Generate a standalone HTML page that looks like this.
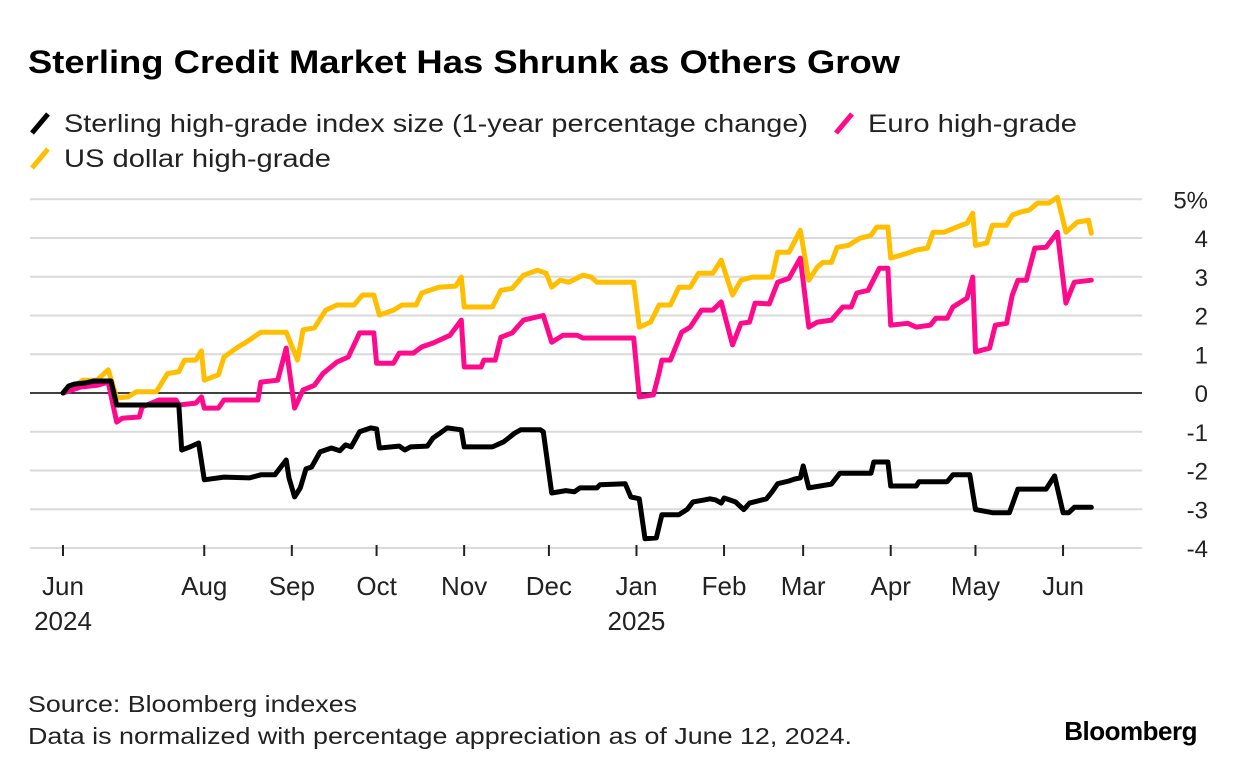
<!DOCTYPE html>
<html><head><meta charset="utf-8"><style>
body{margin:0;background:#fff;width:1236px;height:774px;overflow:hidden;font-family:"Liberation Sans",sans-serif;}
svg text{font-family:"Liberation Sans",sans-serif;}
</style></head><body>
<svg id="chart" width="1236" height="774" xmlns="http://www.w3.org/2000/svg">
<text x="28" y="73" font-size="32" font-weight="bold" fill="#000" textLength="872" lengthAdjust="spacingAndGlyphs">Sterling Credit Market Has Shrunk as Others Grow</text>
<g font-size="25" fill="#222">
<g><line x1="32" y1="133" x2="48" y2="114" stroke="#000" stroke-width="5"/><text x="64" y="132" textLength="744" lengthAdjust="spacingAndGlyphs">Sterling high-grade index size (1-year percentage change)</text></g>
<g><line x1="836" y1="133" x2="852" y2="114" stroke="#ff0a8c" stroke-width="5"/><text x="868" y="132" textLength="209" lengthAdjust="spacingAndGlyphs">Euro high-grade</text></g>
<g><line x1="32" y1="168" x2="48" y2="149" stroke="#ffbf00" stroke-width="5"/><text x="64" y="167" textLength="267" lengthAdjust="spacingAndGlyphs">US dollar high-grade</text></g>
</g>
<g id="grid"></g>
<g id="yaxis"></g>
<g id="xaxis"></g>
<g id="series"></g>
<text x="28" y="712" font-size="23" fill="#222" textLength="329" lengthAdjust="spacingAndGlyphs">Source: Bloomberg indexes</text>
<text x="28" y="744" font-size="23" fill="#222" textLength="824" lengthAdjust="spacingAndGlyphs">Data is normalized with percentage appreciation as of June 12, 2024.</text>
<text x="1197" y="740" font-size="26" font-weight="bold" text-anchor="end" fill="#000" letter-spacing="-0.5">Bloomberg</text>
</svg>
<script>
// days since 2024-06-12
const sterlingDays=[0,2,4,8,11,17,19,41,42,45,48,50,57,66,70,75,79,80,82,84,86,88,91,95,98,100,102,105,109,111,112,119,121,123,129,131,133,136,141,142,152,156,160,162,169,170,173,178,181,183,189,190,199,201,204,206,210,212,218,221,223,227,229,231,233,234,238,241,243,249,251,253,257,259,261,262,264,272,275,286,287,292,293,302,303,313,315,321,323,329,335,338,348,351,354,356,358,364];
const sterlingValues=[0,0.18,0.23,0.26,0.31,0.31,-0.31,-0.31,-1.47,-1.39,-1.29,-2.24,-2.17,-2.19,-2.11,-2.11,-1.73,-2.19,-2.68,-2.45,-1.96,-1.91,-1.52,-1.42,-1.49,-1.34,-1.39,-1.0,-0.9,-0.93,-1.42,-1.37,-1.47,-1.39,-1.37,-1.16,-1.06,-0.9,-0.95,-1.39,-1.39,-1.26,-1.03,-0.95,-0.95,-1.0,-2.58,-2.52,-2.55,-2.45,-2.45,-2.37,-2.34,-2.68,-2.73,-3.76,-3.74,-3.14,-3.14,-3.0,-2.81,-2.76,-2.73,-2.76,-2.84,-2.71,-2.81,-3.01,-2.84,-2.73,-2.55,-2.34,-2.27,-2.22,-2.19,-1.88,-2.45,-2.35,-2.07,-2.07,-1.78,-1.78,-2.4,-2.4,-2.29,-2.29,-2.11,-2.11,-3.01,-3.09,-3.09,-2.48,-2.48,-2.14,-3.09,-3.09,-2.95,-2.95];
const euroDays=[0,6,12,16,19,21,27,28,34,40,41,47,49,50,55,57,69,70,76,79,82,85,89,92,97,101,105,110,111,117,119,124,127,131,137,141,142,148,149,153,155,159,163,170,173,177,182,184,202,204,209,211,212,215,219,222,226,230,233,237,240,243,245,250,253,257,261,264,267,272,276,279,281,285,289,292,293,299,302,307,309,313,315,320,322,323,328,330,334,336,338,341,344,348,352,355,358,364];
const euroValues=[0,0.15,0.2,0.28,-0.75,-0.65,-0.62,-0.36,-0.18,-0.18,-0.31,-0.26,-0.1,-0.39,-0.39,-0.18,-0.18,0.28,0.33,1.16,-0.39,0.08,0.2,0.5,0.8,0.93,1.55,1.55,0.77,0.77,1.03,1.03,1.19,1.29,1.49,1.88,0.67,0.67,0.85,0.85,1.44,1.55,1.88,2.0,1.31,1.49,1.49,1.42,1.42,-0.1,-0.05,0.52,0.85,0.85,1.57,1.7,2.14,2.14,2.35,1.24,1.8,1.83,2.32,2.3,2.86,2.96,3.48,1.7,1.83,1.88,2.22,2.22,2.58,2.65,3.22,3.22,1.75,1.8,1.7,1.75,1.93,1.93,2.22,2.45,2.99,1.06,1.16,1.75,1.8,2.52,2.91,2.91,3.74,3.76,4.15,2.32,2.86,2.91];
const usdDays=[0,7,12,16,19,23,26,33,37,41,43,47,49,50,55,57,62,65,70,79,83,85,89,93,97,103,106,110,112,117,120,125,127,133,139,141,142,152,155,159,163,168,171,173,176,179,184,187,189,202,204,208,211,215,218,222,225,230,233,237,240,244,251,253,257,261,264,267,269,272,274,278,282,286,288,292,293,299,302,306,308,312,318,320,322,323,327,329,334,336,339,342,345,349,352,355,359,363,364];
const usdValues=[0,0.33,0.33,0.6,-0.13,-0.1,0.03,0.03,0.5,0.55,0.85,0.85,1.09,0.33,0.47,0.93,1.19,1.32,1.57,1.57,0.85,1.63,1.68,2.14,2.27,2.27,2.53,2.53,2.01,2.14,2.27,2.27,2.58,2.73,2.76,2.99,2.22,2.22,2.65,2.7,3.04,3.17,3.09,2.73,2.91,2.86,3.04,2.99,2.86,2.86,1.7,1.83,2.27,2.27,2.73,2.73,3.09,3.09,3.43,2.53,2.91,2.99,2.99,3.63,3.63,4.2,2.91,3.25,3.37,3.37,3.76,3.81,3.99,4.07,4.28,4.28,3.48,3.61,3.69,3.74,4.15,4.15,4.33,4.38,4.64,3.81,3.87,4.33,4.33,4.59,4.67,4.72,4.9,4.9,5.05,4.15,4.41,4.46,4.12];
const yTicks=[5,4,3,2,1,0,-1,-2,-3,-4];
const monthTickDays=[0,50,81,111,142,172,203,234,262,293,323,354];
const monthLabels=["Jun","Aug","Sep","Oct","Nov","Dec","Jan","Feb","Mar","Apr","May","Jun"];
const yearLabels=["2024","","","","","","2025","","","","",""];

const NS="http://www.w3.org/2000/svg";
const xS=d=>63+d*2.825;
const yS=v=>393-v*38.75;
function mk(tag,attrs,parent){const e=document.createElementNS(NS,tag);for(const k in attrs)e.setAttribute(k,attrs[k]);parent.appendChild(e);return e;}
const grid=document.getElementById('grid'),yax=document.getElementById('yaxis'),xax=document.getElementById('xaxis'),ser=document.getElementById('series');
yTicks.forEach(v=>{
  if(v!==0){const l=mk('line',{x1:30,x2:1142,y1:yS(v),y2:yS(v),stroke:'#dadada','stroke-width':2},grid);
  
  }
  const t=mk('text',{x:1208,y:yS(v)+9,'font-size':24,'text-anchor':'end',fill:'#222'},yax);
  t.textContent=(v<0?'-'+Math.abs(v):v)+(v===5?'%':'');
  
  
});
const z=mk('line',{x1:30,x2:1142,y1:yS(0),y2:yS(0),stroke:'#000','stroke-width':1.5},grid);


monthTickDays.forEach((d,i)=>{
  const tk=mk('line',{x1:xS(d),x2:xS(d),y1:545,y2:556,stroke:'#222','stroke-width':2},xax);
  
  
  const t=mk('text',{x:xS(d),y:595,'font-size':26,'text-anchor':'middle',fill:'#222'},xax);
  t.textContent=monthLabels[i];
  
  
  if(yearLabels[i]){const y=mk('text',{x:xS(d),y:630,'font-size':26,'text-anchor':'middle',fill:'#222'},xax);
  y.textContent=yearLabels[i];
  
  }
});
function line(days,vals,color,name){
  const d=days.map((x,i)=>(i?'L':'M')+xS(x).toFixed(1)+','+yS(vals[i]).toFixed(1)).join('');
  const p=mk('path',{d:d,fill:'none',stroke:color,'stroke-width':5,'stroke-linejoin':'round','stroke-linecap':'round'},ser);
  
  
}
line(usdDays,usdValues,'#ffbf00','usd-line');
line(euroDays,euroValues,'#ff0a8c','euro-line');
line(sterlingDays,sterlingValues,'#000','sterling-line');
</script>
</body></html>
